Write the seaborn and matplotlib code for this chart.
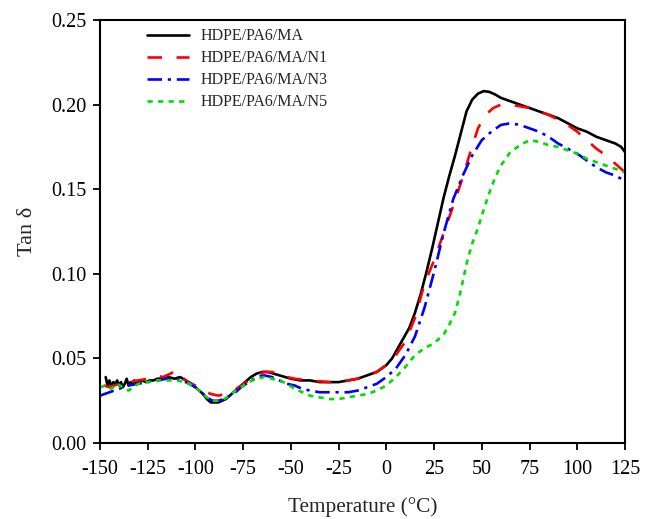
import numpy as np
import pandas as pd
import matplotlib
matplotlib.use("Agg")
import matplotlib.pyplot as plt
import seaborn as sns

# ---- data ----
labels = ["HDPE/PA6/MA", "HDPE/PA6/MA/N1", "HDPE/PA6/MA/N3", "HDPE/PA6/MA/N5"]

t_ma = [-147, -146, -145, -144, -143, -142, -141, -140, -139, -138, -137, -136, -135, -134,
        -133, -132, -131, -130, -128, -126, -124, -122, -120, -117, -114, -111, -108, -105,
        -102, -100, -98, -96, -94, -92, -90, -88, -86, -84, -82, -80, -77, -74, -71, -68,
        -65, -62, -59, -56, -53, -50, -45, -40, -35, -30, -25, -20, -15, -10, -5, 0, 3, 6,
        9, 12, 15, 18, 21, 24, 27, 30, 33, 36, 39, 42, 45, 48, 51, 54, 57, 60, 65, 70, 75,
        80, 85, 90, 95, 100, 105, 110, 115, 120, 123, 125]
v_ma = [0.039, 0.034, 0.037, 0.033, 0.036, 0.035, 0.037, 0.034, 0.036, 0.033, 0.035, 0.038,
        0.034, 0.036, 0.035, 0.037, 0.035, 0.036, 0.037, 0.036, 0.037, 0.037, 0.038, 0.038,
        0.039, 0.038, 0.039, 0.037, 0.035, 0.033, 0.031, 0.029, 0.026, 0.024, 0.024, 0.024,
        0.025, 0.026, 0.028, 0.030, 0.033, 0.036, 0.039, 0.041, 0.042, 0.042, 0.041, 0.040,
        0.039, 0.038, 0.037, 0.037, 0.036, 0.036, 0.036, 0.037, 0.038, 0.040, 0.042, 0.046,
        0.050, 0.056, 0.062, 0.068, 0.077, 0.088, 0.101, 0.115, 0.130, 0.145, 0.158, 0.170,
        0.183, 0.196, 0.203, 0.2065, 0.208, 0.2075, 0.206, 0.204, 0.202, 0.200, 0.198, 0.196,
        0.194, 0.192, 0.189, 0.186, 0.184, 0.181, 0.179, 0.177, 0.175, 0.172]

t_n1 = [-148, -145, -140, -135, -130, -125, -121, -117, -113, -110, -107, -104, -100, -96,
        -92, -88, -84, -80, -76, -72, -68, -64, -60, -56, -52, -48, -40, -30, -25, -20, -15,
        -10, -5, 0, 5, 10, 15, 20, 25, 30, 35, 40, 44, 48, 52, 56, 60, 65, 70, 75, 80, 85,
        90, 95, 100, 105, 110, 115, 120, 125]
v_n1 = [0.034, 0.033, 0.035, 0.036, 0.037, 0.038, 0.040, 0.039, 0.041, 0.043, 0.039, 0.036,
        0.034, 0.031, 0.029, 0.028, 0.029, 0.031, 0.034, 0.037, 0.040, 0.042, 0.042, 0.041,
        0.039, 0.038, 0.037, 0.036, 0.036, 0.037, 0.038, 0.040, 0.042, 0.046, 0.052, 0.060,
        0.074, 0.094, 0.108, 0.124, 0.140, 0.157, 0.172, 0.186, 0.194, 0.198, 0.200, 0.200,
        0.199, 0.198, 0.196, 0.194, 0.191, 0.188, 0.184, 0.179, 0.174, 0.170, 0.165, 0.160]

t_n3 = [-150, -145, -140, -135, -130, -125, -120, -115, -110, -105, -100, -97, -94, -91, -88,
        -85, -82, -79, -76, -72, -68, -64, -60, -56, -52, -48, -44, -40, -35, -30, -25, -20,
        -15, -10, -5, 0, 5, 10, 15, 20, 25, 30, 35, 40, 45, 50, 55, 60, 65, 70, 75, 80, 85,
        90, 95, 100, 105, 110, 115, 120, 125]
v_n3 = [0.028, 0.030, 0.032, 0.034, 0.035, 0.036, 0.037, 0.038, 0.038, 0.036, 0.033, 0.030,
        0.027, 0.025, 0.025, 0.026, 0.028, 0.030, 0.033, 0.036, 0.039, 0.040, 0.039, 0.037,
        0.035, 0.034, 0.032, 0.031, 0.030, 0.030, 0.030, 0.030, 0.031, 0.033, 0.035, 0.039,
        0.044, 0.052, 0.063, 0.080, 0.101, 0.124, 0.144, 0.158, 0.170, 0.179, 0.184, 0.188,
        0.189, 0.188, 0.186, 0.184, 0.181, 0.177, 0.174, 0.171, 0.167, 0.163, 0.160, 0.158,
        0.155]

t_n5 = [-150, -147, -144, -141, -138, -135, -130, -125, -120, -115, -110, -105, -100, -97,
        -94, -91, -88, -85, -82, -79, -76, -72, -68, -64, -60, -56, -52, -48, -44, -40, -35,
        -30, -25, -20, -15, -10, -5, 0, 5, 10, 15, 20, 25, 30, 33, 36, 39, 42, 45, 48, 51,
        54, 57, 60, 65, 70, 75, 80, 85, 90, 95, 100, 105, 110, 115, 120, 125]
v_n5 = [0.033, 0.034, 0.032, 0.035, 0.033, 0.031, 0.035, 0.036, 0.037, 0.037, 0.037, 0.036,
        0.033, 0.030, 0.027, 0.025, 0.025, 0.026, 0.028, 0.031, 0.033, 0.036, 0.038, 0.039,
        0.038, 0.037, 0.035, 0.032, 0.030, 0.028, 0.027, 0.026, 0.026, 0.027, 0.028, 0.029,
        0.031, 0.034, 0.039, 0.045, 0.052, 0.056, 0.059, 0.064, 0.070, 0.077, 0.090, 0.106,
        0.118, 0.127, 0.138, 0.148, 0.157, 0.164, 0.172, 0.176, 0.179, 0.178, 0.176, 0.175,
        0.173, 0.171, 0.168, 0.166, 0.164, 0.162, 0.160]

x_ticks = [-150, -125, -100, -75, -50, -25, 0, 25, 50, 75, 100, 125]
y_ticks = [0.00, 0.05, 0.10, 0.15, 0.20, 0.25]

frames = []
for lab, t, v in zip(labels, [t_ma, t_n1, t_n3, t_n5], [v_ma, v_n1, v_n3, v_n5]):
    frames.append(pd.DataFrame({"T": t, "tan": v, "sample": lab}))
df = pd.concat(frames, ignore_index=True)

# ---- style ----
sns.set_style("ticks")
plt.rcParams["font.family"] = ["Liberation Serif", "DejaVu Serif"]
plt.rcParams["axes.unicode_minus"] = False

palette = {labels[0]: "#000000", labels[1]: "#ff0000", labels[2]: "#0000ff", labels[3]: "#00dd00"}
dashes = {labels[0]: "", labels[1]: (5.5, 5.5), labels[2]: (5.5, 2.2, 1.2, 2.2), labels[3]: (2.0, 2.0)}

fig = plt.figure(figsize=(6.49, 5.19), dpi=100)
ax = fig.add_axes([0.154, 0.1464, 0.809, 0.815])

sns.lineplot(data=df, x="T", y="tan", hue="sample", style="sample", palette=palette,
             dashes=dashes, estimator=None, sort=False, linewidth=1.9, ax=ax)

ax.set_xlim(-150, 125)
ax.set_ylim(0, 0.25)
ax.set_xticks(x_ticks)
ax.set_xticklabels([str(v) for v in x_ticks])
ax.set_yticks(y_ticks)
ax.set_yticklabels([f"{v:.2f}" for v in y_ticks])
ax.tick_params(axis="both", direction="out", length=5, width=1.3, labelsize=14.5, colors="black")
ax.tick_params(axis="x", pad=7)
ax.tick_params(axis="y", pad=5)
for s in ax.spines.values():
    s.set_linewidth(1.5)
    s.set_color("black")
    s.set_visible(True)

ax.set_xlabel("Temperature (°C)", fontsize=15.3, labelpad=13)
ax.set_ylabel("Tan δ", fontsize=16, labelpad=10)

handles, labs = ax.get_legend_handles_labels()
ax.legend(handles, labs, loc="upper left", bbox_to_anchor=(0.09, 0.98), frameon=False,
          fontsize=11.5, handlelength=2.6, handletextpad=0.75, labelspacing=0.37,
          borderpad=0, borderaxespad=0)

fig.savefig("out.png", dpi=100)
